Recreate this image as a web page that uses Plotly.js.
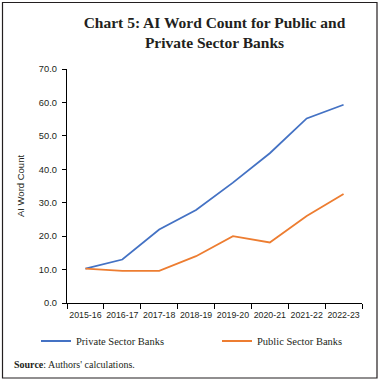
<!DOCTYPE html>
<html><head><meta charset="utf-8">
<script src="https://cdn.plot.ly/plotly-3.0.1.min.js"></script>
<style>html,body{margin:0;padding:0;background:#fff;}#chart{width:380px;height:381px;}</style>
</head><body><div id="chart"></div>
<script>
const years = ["2015-16","2016-17","2017-18","2018-19","2019-20","2020-21","2021-22","2022-23"];
const privateBanks = [10.3, 13.0, 22.0, 27.8, 36.0, 44.8, 55.2, 59.3];
const publicBanks = [10.3, 9.6, 9.6, 14.0, 20.0, 18.1, 26.0, 32.6];
const yTicks = [0,10,20,30,40,50,60,70];

const W = 380, H = 381;
const m = {l: 67, r: 18, t: 69, b: 78};
const pw = W - m.l - m.r, ph = H - m.t - m.b;
const px = x => (x - m.l) / pw;
const py = y => (H - m.b - y) / ph;

const serif = "Liberation Serif, DejaVu Serif, serif";
const sans = "Liberation Sans, Arial, sans-serif";

const data = [
  {x: years, y: privateBanks, type: 'scatter', mode: 'lines', name: 'Private Sector Banks',
   line: {color: '#4472C4', width: 1.8}, legend: 'legend'},
  {x: years, y: publicBanks, type: 'scatter', mode: 'lines', name: 'Public Sector Banks',
   line: {color: '#ED7D31', width: 1.8}, legend: 'legend2'}
];

const legendBase = {orientation: 'h', xanchor: 'left', y: py(341), yanchor: 'middle',
  font: {family: serif, size: 10.5, color: '#231f20'}, bgcolor: 'rgba(0,0,0,0)', borderwidth: 0};

const layout = {
  width: W, height: H,
  margin: m,
  paper_bgcolor: '#fff', plot_bgcolor: '#fff',
  showlegend: true,
  title: {text: '<b>Chart 5: AI Word Count for Public and<br>Private Sector Banks</b>',
          font: {family: serif, size: 15.5, color: '#231f20'},
          x: 0.5, xref: 'paper', xanchor: 'center', y: 1 - 28/H, yanchor: 'middle'},
  xaxis: {type: 'category', range: [-0.5, 7.5], tickson: 'boundaries', tickangle: 0,
          ticks: 'outside', ticklen: 5, tickcolor: '#000', tickwidth: 1, ticklabelstandoff: 3,
          showline: true, linecolor: '#000', linewidth: 1.2, showgrid: false, zeroline: false,
          tickfont: {family: sans, size: 8.8, color: '#231f20'}, fixedrange: true},
  yaxis: {range: [0, 70], tickvals: yTicks, tickformat: '.1f',
          ticks: 'outside', ticklen: 4, tickcolor: '#000', tickwidth: 1, ticklabelstandoff: 3,
          showline: true, linecolor: '#000', linewidth: 1.2, showgrid: false, zeroline: false,
          tickfont: {family: sans, size: 9.3, color: '#231f20'},
          title: {text: 'AI Word Count', font: {family: sans, size: 9.5, color: '#231f20'}, standoff: 12},
          fixedrange: true},
  legend: Object.assign({}, legendBase, {x: px(36)}),
  legend2: Object.assign({}, legendBase, {x: px(217)}),
  shapes: [
    {type: 'rect', xref: 'paper', yref: 'paper', x0: px(2.5), x1: px(377), y0: py(378), y1: py(2.5),
     line: {color: '#231f20', width: 1.2}, fillcolor: 'rgba(0,0,0,0)', layer: 'below'}
  ],
  annotations: [
    {text: "<b>Source</b>: Authors' calculations.", xref: 'paper', yref: 'paper',
     x: px(12), y: py(364), xanchor: 'left', yanchor: 'middle', showarrow: false,
     font: {family: serif, size: 10, color: '#231f20'}}
  ]
};

Plotly.newPlot('chart', data, layout, {displayModeBar: false, staticPlot: true});
</script></body></html>
